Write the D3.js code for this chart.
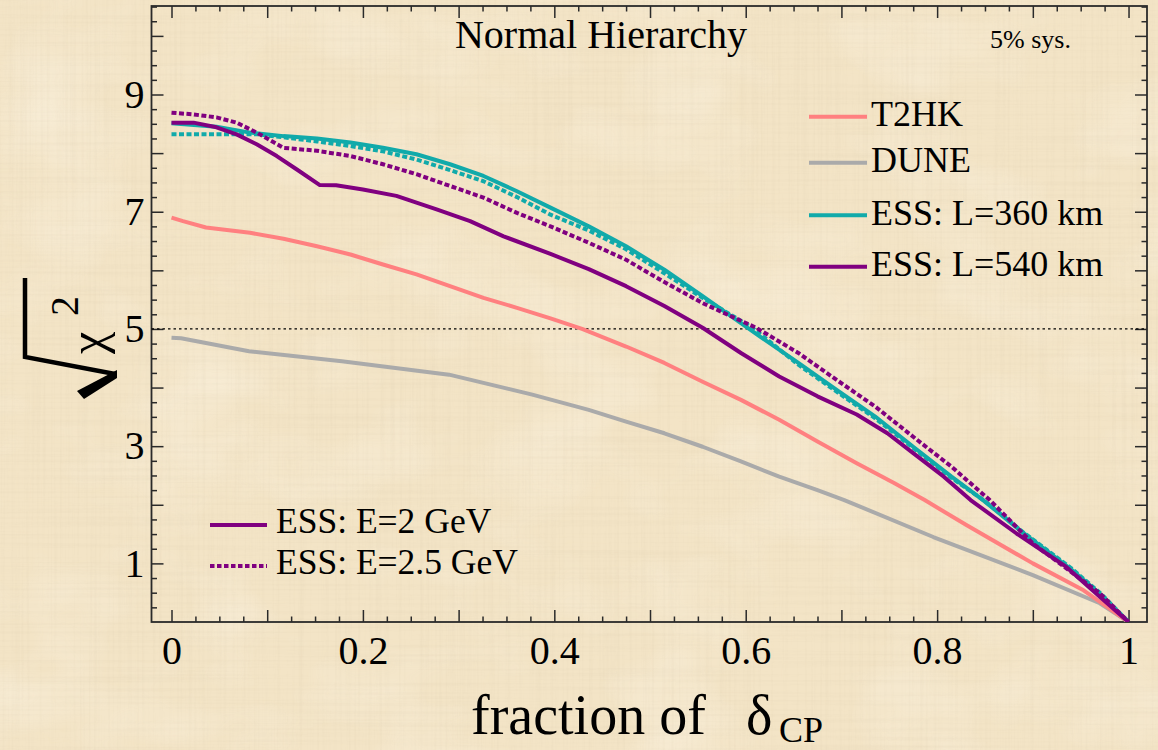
<!DOCTYPE html>
<html>
<head>
<meta charset="utf-8">
<script src="https://cdn.jsdelivr.net/npm/d3@7"></script>
<style>
  html, body { margin: 0; padding: 0; background: #F3E4C6; }
  svg { display: block; }
  text { font-family: "Liberation Serif", "Times New Roman", serif; fill: #000; }
</style>
</head>
<body>
<svg id="chart" width="1158" height="750"></svg>
<script>
// Sensitivity curves: [fraction of delta_CP, sqrt(chi^2)]
const t2hk = [[0,6.90],[0.012,6.84],[0.036,6.73],[0.082,6.64],[0.117,6.54],[0.152,6.41],[0.187,6.27],[0.221,6.10],[0.256,5.93],[0.291,5.73],[0.326,5.53],[0.361,5.36],[0.396,5.18],[0.429,5.00],[0.475,4.70],[0.515,4.42],[0.555,4.10],[0.595,3.79],[0.635,3.45],[0.675,3.08],[0.716,2.71],[0.755,2.37],[0.787,2.08],[0.831,1.65],[0.900,1.00],[0.953,0.54],[1,0]];
const dune = [[0,4.85],[0.010,4.84],[0.081,4.62],[0.178,4.45],[0.290,4.22],[0.377,3.88],[0.436,3.62],[0.475,3.42],[0.515,3.22],[0.555,2.99],[0.595,2.74],[0.635,2.48],[0.675,2.25],[0.703,2.08],[0.796,1.45],[0.900,0.80],[0.970,0.32],[1,0]];
const ess360E2 = [[0,8.51],[0.047,8.45],[0.082,8.35],[0.117,8.29],[0.152,8.25],[0.187,8.18],[0.221,8.09],[0.256,7.98],[0.291,7.81],[0.326,7.61],[0.361,7.35],[0.396,7.07],[0.436,6.75],[0.475,6.41],[0.515,6.01],[0.555,5.56],[0.595,5.10],[0.615,4.87],[0.655,4.42],[0.695,3.96],[0.735,3.51],[0.775,2.99],[0.815,2.48],[0.848,2.08],[0.890,1.52],[0.940,0.90],[0.972,0.45],[1,0]];
const ess360E25 = [[0,8.32],[0.060,8.32],[0.090,8.32],[0.117,8.27],[0.152,8.20],[0.187,8.12],[0.221,8.03],[0.256,7.89],[0.291,7.71],[0.326,7.52],[0.361,7.25],[0.396,6.95],[0.436,6.68],[0.475,6.36],[0.515,5.95],[0.555,5.53],[0.607,5.02],[0.655,4.39],[0.695,3.93],[0.735,3.48],[0.775,2.97],[0.815,2.46],[0.850,2.06],[0.890,1.53],[0.940,0.92],[0.972,0.47],[1,0]];
const ess540E2 = [[0,8.52],[0.023,8.52],[0.047,8.44],[0.068,8.32],[0.089,8.15],[0.110,7.95],[0.131,7.72],[0.155,7.455],[0.172,7.45],[0.200,7.38],[0.235,7.27],[0.277,7.04],[0.312,6.84],[0.347,6.58],[0.396,6.28],[0.436,6.02],[0.475,5.73],[0.515,5.39],[0.555,5.02],[0.595,4.59],[0.635,4.19],[0.675,3.85],[0.716,3.54],[0.748,3.22],[0.775,2.88],[0.807,2.48],[0.835,2.08],[0.883,1.51],[0.935,0.94],[0.970,0.43],[1,0]];
const ess540E25 = [[0,8.69],[0.023,8.66],[0.047,8.61],[0.068,8.52],[0.089,8.35],[0.117,8.09],[0.152,8.04],[0.187,7.95],[0.221,7.81],[0.256,7.64],[0.291,7.44],[0.326,7.24],[0.361,6.98],[0.396,6.75],[0.436,6.47],[0.475,6.18],[0.515,5.80],[0.555,5.44],[0.611,5.02],[0.655,4.59],[0.695,4.13],[0.735,3.68],[0.775,3.16],[0.815,2.65],[0.855,2.08],[0.900,1.34],[0.970,0.49],[1,0]];

const xTickValues = [0, 0.2, 0.4, 0.6, 0.8, 1];
const xTickLabels = ["0", "0.2", "0.4", "0.6", "0.8", "1"];
const yTickValues = [1, 3, 5, 7, 9];
const yTickLabels = ["1", "3", "5", "7", "9"];
const thresholdLevel = 5;

const topLegendLabels = ["T2HK", "DUNE", "ESS: L=360 km", "ESS: L=540 km"];
const bottomLegendLabels = ["ESS: E=2 GeV", "ESS: E=2.5 GeV"];

const colT2HK = "#FF8080", colDUNE = "#AAAAAA", colTeal = "#11AAAA", colPurple = "#800080";

const svg = d3.select("#chart");
const W = 1158, H = 750;
const box = { left: 151.5, right: 1147, top: 6, bottom: 622 };

const x = d3.scaleLinear().domain([-0.0209, 1.0193]).range([box.left, box.right]);
const y = d3.scaleLinear().domain([0, 10.51]).range([box.bottom, box.top]);

// Parchment background with fine linen-like grain
const defs = svg.append("defs");
const fH = defs.append("filter").attr("id", "grainH").attr("x", 0).attr("y", 0).attr("width", 1).attr("height", 1);
fH.append("feTurbulence").attr("type", "fractalNoise").attr("baseFrequency", "0.004 0.35").attr("numOctaves", 2).attr("seed", 3);
fH.append("feColorMatrix").attr("type", "matrix")
  .attr("values", "0 0 0 0 0.55  0 0 0 0 0.45  0 0 0 0 0.30  0 0 0 -1.1 0.62");
const fV = defs.append("filter").attr("id", "grainV").attr("x", 0).attr("y", 0).attr("width", 1).attr("height", 1);
fV.append("feTurbulence").attr("type", "fractalNoise").attr("baseFrequency", "0.35 0.004").attr("numOctaves", 2).attr("seed", 7);
fV.append("feColorMatrix").attr("type", "matrix")
  .attr("values", "0 0 0 0 0.55  0 0 0 0 0.45  0 0 0 0 0.30  0 0 0 -1.1 0.62");
const fB = defs.append("filter").attr("id", "blotch").attr("x", 0).attr("y", 0).attr("width", 1).attr("height", 1);
fB.append("feTurbulence").attr("type", "fractalNoise").attr("baseFrequency", "0.008 0.012").attr("numOctaves", 3).attr("seed", 11);
fB.append("feColorMatrix").attr("type", "matrix")
  .attr("values", "0 0 0 0 1  0 0 0 0 0.97  0 0 0 0 0.90  0 0 0 -1.4 0.75");

svg.append("rect").attr("width", W).attr("height", H).attr("fill", "#F3E4C6");
svg.append("rect").attr("width", W).attr("height", H).attr("filter", "url(#blotch)").attr("opacity", 0.5);
svg.append("rect").attr("width", W).attr("height", H).attr("filter", "url(#grainH)").attr("opacity", 0.16);
svg.append("rect").attr("width", W).attr("height", H).attr("filter", "url(#grainV)").attr("opacity", 0.16);

defs.append("clipPath").attr("id", "plotClip").append("rect")
  .attr("x", box.left).attr("y", box.top).attr("width", box.right - box.left).attr("height", box.bottom - box.top);

// Axes with inward ticks on all four sides
const frameColor = "#2a2a2a";
const minorX = d3.range(0, 41).map(i => i * 0.025).filter(v => Math.abs(v * 10 - Math.round(v * 10)) > 1e-6);
const majorX = d3.range(0, 11).map(i => i / 10);
const minorY = d3.range(0, 43).map(i => i * 0.25).filter(v => Math.abs(v - Math.round(v)) > 1e-6 && v <= 10.5);
const majorY = d3.range(1, 11);

function styleAxis(g) {
  g.attr("font-family", null);
  g.select(".domain").remove();
  g.selectAll(".tick line").attr("stroke", frameColor).attr("stroke-width", 1.5);
  g.selectAll("text").style("font-family", '"Liberation Serif", serif').attr("fill", "#000");
}

function addAxis(axisFn, scale, values, size, transform) {
  const ax = axisFn(scale).tickValues(values).tickSizeInner(-size).tickSizeOuter(0)
    .tickFormat(() => "");
  const g = svg.append("g").attr("transform", transform).call(ax);
  styleAxis(g);
  return g;
}

// bottom
addAxis(d3.axisBottom, x, minorX, 5.5, `translate(0,${box.bottom})`);
addAxis(d3.axisBottom, x, majorX, 12, `translate(0,${box.bottom})`);
const gxl = svg.append("g").attr("transform", `translate(0,${box.bottom})`)
  .call(d3.axisBottom(x).tickValues(xTickValues).tickSize(0).tickPadding(14)
    .tickFormat((d, i) => xTickLabels[i]));
styleAxis(gxl);
gxl.selectAll("text").attr("font-size", 40);
// top
addAxis(d3.axisTop, x, minorX, 5.5, `translate(0,${box.top})`);
addAxis(d3.axisTop, x, majorX, 12, `translate(0,${box.top})`);
// left
addAxis(d3.axisLeft, y, minorY, 5.5, `translate(${box.left},0)`);
addAxis(d3.axisLeft, y, majorY, 12, `translate(${box.left},0)`);
const gyl = svg.append("g").attr("transform", `translate(${box.left},0)`)
  .call(d3.axisLeft(y).tickValues(yTickValues).tickSize(0).tickPadding(7)
    .tickFormat((d, i) => yTickLabels[i]));
styleAxis(gyl);
gyl.selectAll("text").attr("font-size", 40);
// right
addAxis(d3.axisRight, y, minorY, 5.5, `translate(${box.right},0)`);
addAxis(d3.axisRight, y, majorY, 12, `translate(${box.right},0)`);

// Frame
svg.append("rect").attr("x", box.left).attr("y", box.top)
  .attr("width", box.right - box.left).attr("height", box.bottom - box.top)
  .attr("fill", "none").attr("stroke", frameColor).attr("stroke-width", 1.8);

// 5 sigma reference line
svg.append("line")
  .attr("x1", box.left).attr("x2", box.right)
  .attr("y1", y(thresholdLevel)).attr("y2", y(thresholdLevel))
  .attr("stroke", "#000").attr("stroke-width", 1.3).attr("stroke-dasharray", "2.5,3");

// Curves
const line = d3.line().x(d => x(d[0])).y(d => y(d[1]));
const plotG = svg.append("g").attr("clip-path", "url(#plotClip)");
const series = [
  { data: dune, color: colDUNE, dash: null },
  { data: t2hk, color: colT2HK, dash: null },
  { data: ess360E2, color: colTeal, dash: null },
  { data: ess360E25, color: colTeal, dash: "5,2.5" },
  { data: ess540E2, color: colPurple, dash: null },
  { data: ess540E25, color: colPurple, dash: "5,2.5" }
];
series.forEach(s => {
  plotG.append("path").datum(s.data)
    .attr("d", line)
    .attr("fill", "none")
    .attr("stroke", s.color)
    .attr("stroke-width", 4)
    .attr("stroke-linejoin", "round")
    .attr("stroke-dasharray", s.dash);
});

// Titles inside the frame
svg.append("text").attr("x", 601).attr("y", 48).attr("text-anchor", "middle")
  .attr("font-size", 40).text("Normal Hierarchy");
svg.append("text").attr("x", 990).attr("y", 48).attr("font-size", 26).text("5% sys.");

// Experiment legend (top right)
const topColors = [colT2HK, colDUNE, colTeal, colPurple];
const topLineY = [116.7, 162.7, 215.3, 266.7];
topLegendLabels.forEach((lab, i) => {
  svg.append("line").attr("x1", 809).attr("x2", 867).attr("y1", topLineY[i]).attr("y2", topLineY[i])
    .attr("stroke", topColors[i]).attr("stroke-width", 4);
  svg.append("text").attr("x", 871).attr("y", topLineY[i] + 9.5).attr("font-size", 36).text(lab);
});

// Beam energy legend (bottom left)
const botLineY = [525, 566];
const botDash = [null, "4.5,2.5"];
bottomLegendLabels.forEach((lab, i) => {
  svg.append("line").attr("x1", 210).attr("x2", 267).attr("y1", botLineY[i]).attr("y2", botLineY[i])
    .attr("stroke", colPurple).attr("stroke-width", 4).attr("stroke-dasharray", botDash[i]);
  svg.append("text").attr("x", 276).attr("y", botLineY[i] + 7.5).attr("font-size", 35.5).text(lab);
});

// X axis title: fraction of delta_CP
const xt = svg.append("text").attr("x", 471).attr("y", 734).attr("font-size", 56);
xt.append("tspan").text("fraction of");
xt.append("tspan").attr("x", 746).text("δ");
xt.append("tspan").attr("x", 779).attr("dy", 8).attr("font-size", 36).text("CP");

// Y axis title: sqrt(chi^2), rotated
const yl = svg.append("g");
yl.append("path")
  .attr("d", "M25,278 L25,357 L115,374")
  .attr("fill", "none").attr("stroke", "#000").attr("stroke-width", 4.5).attr("stroke-linejoin", "miter");
yl.append("path")
  .attr("d", "M117,370 L117,378 L84,399 L77,391 Z")
  .attr("fill", "#000");
yl.append("text").attr("transform", "translate(104,354) rotate(-90)").attr("font-size", 50).text("χ");
yl.append("text").attr("transform", "translate(78,316) rotate(-90)").attr("font-size", 40).text("2");
</script>
</body>
</html>
